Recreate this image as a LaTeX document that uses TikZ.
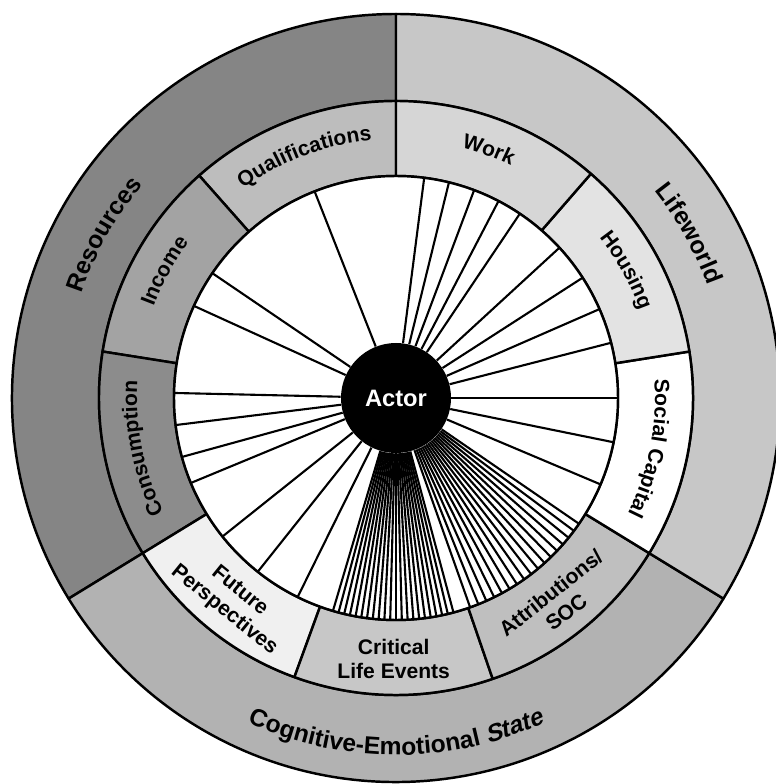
\documentclass[tikz,border=0pt]{standalone}
\usepackage{fontspec}
\setmainfont{Liberation Sans}
\newfontfamily\slantsans{Liberation Sans}[FakeSlant=0.22]
\usetikzlibrary{decorations.text}

\definecolor{resources}{gray}{0.52}
\definecolor{cogstate}{gray}{0.70}
\definecolor{lifeworld}{gray}{0.78}
\definecolor{qualif}{gray}{0.74}
\definecolor{income}{gray}{0.64}
\definecolor{consum}{gray}{0.55}
\definecolor{future}{gray}{0.94}
\definecolor{critical}{gray}{0.78}
\definecolor{attrib}{gray}{0.75}
\definecolor{social}{gray}{1}
\definecolor{housing}{gray}{0.89}
\definecolor{work}{gray}{0.84}

\newcommand{\bigfont}{\bfseries\fontsize{14}{16}\selectfont}
\newcommand{\bigslant}{\slantsans\bfseries\fontsize{14}{16}\selectfont}
\newcommand{\midfont}{\bfseries\fontsize{12}{14}\selectfont}

\tikzstyle{sector} = [draw=black, line width=1.4pt, line join=round]
\tikzstyle{spoke} = [line width=1.2pt]
\tikzstyle{hub} = [circle, fill=black, text=white, minimum size=2.2cm, inner sep=0pt, font=\bfseries\fontsize{13.5}{15}\selectfont]
\tikzstyle{twoline} = [align=center, inner sep=0pt, font=\midfont]

\begin{document}
\begin{tikzpicture}
        \useasboundingbox (-7.92,-7.72) rectangle (7.58,7.96);
        \foreach \a/\b/\c in {90/211.5/resources, 211.5/328.5/cogstate, 328.5/450/lifeworld}
            \draw [sector, fill=\c] (\a:5.94) arc[start angle=\a, end angle=\b, radius=5.94] -- (\b:7.68) arc[start angle=\b, end angle=\a, radius=7.68] -- cycle;
        \foreach \a/\b/\c in {90/131.5/qualif, 131.5/171/income, 171/211.5/consum, 211.5/250/future, 250/289/critical, 289/328.5/attrib, 328.5/369/social, 369/409/housing, 409/450/work}
            \draw [sector, fill=\c] (\a:4.44) arc[start angle=\a, end angle=\b, radius=4.44] -- (\b:5.94) arc[start angle=\b, end angle=\a, radius=5.94] -- cycle;
        \draw [sector, fill=white] (0,0) circle (4.44);
        \node [hub] at (0,0) (actor) {Actor};
        \foreach \t in {111.5, 145.8, 155.5, 178.7, 187, 195.4, 202.5, 218.6, 231.5, 243.7, 56.1, 62.5, 69.4, 76.2, 82.7, 14.4, 23.6, 32.8, 42.6, 0, 348.5, 337.1}
            \draw [spoke] (actor) -- (\t:4.44);
        \foreach \t in {253.5,255,...,285.2}
            \draw [spoke] (actor) -- (\t:4.44);
        \foreach \t in {289.5,291.75,...,325.6}
            \draw [spoke] (actor) -- (\t:4.44);
        \path [decorate, decoration={text along path, text align=center, text={|\bigfont|Resources}}] (211.5:6.62) arc[start angle=211.5, end angle=90, radius=6.62];
        \path [decorate, decoration={text along path, text align=center, text={|\bigfont|Lifeworld}}] (90:6.62) arc[start angle=90, end angle=-31.5, radius=6.62];
        \path [decorate, decoration={text along path, text align=center, text={|\bigfont|Cognitive-Emotional |\bigslant|State}}] (211.5:7.14) arc[start angle=211.5, end angle=328.5, radius=7.14];
        \path [decorate, decoration={text along path, text align=center, text={|\midfont|Qualifications}}] (131.5:5.18) arc[start angle=131.5, end angle=90, radius=5.18];
        \path [decorate, decoration={text along path, text align=center, text={|\midfont|Income}}] (171:5.18) arc[start angle=171, end angle=131.5, radius=5.18];
        \path [decorate, decoration={text along path, text align=center, text={|\midfont|Consumption}}] (211.5:5.18) arc[start angle=211.5, end angle=171, radius=5.18];
        \path [decorate, decoration={text along path, text align=center, text={|\midfont|Work}}] (90:5.18) arc[start angle=90, end angle=49, radius=5.18];
        \path [decorate, decoration={text along path, text align=center, text={|\midfont|Housing}}] (49:5.18) arc[start angle=49, end angle=9, radius=5.18];
        \path [decorate, decoration={text along path, text align=center, text={|\midfont|Social Capital}}] (9:5.18) arc[start angle=9, end angle=-31.5, radius=5.18];
        \node [twoline, rotate=-39] at (231:5.22) (future) {Future\\Perspectives};
        \node [twoline] at (269.5:5.22) (critical) {Critical\\Life Events};
        \node [twoline, rotate=38.5] at (308.5:5.22) (attrib) {Attributions/\\SOC};
\end{tikzpicture}
\end{document}
